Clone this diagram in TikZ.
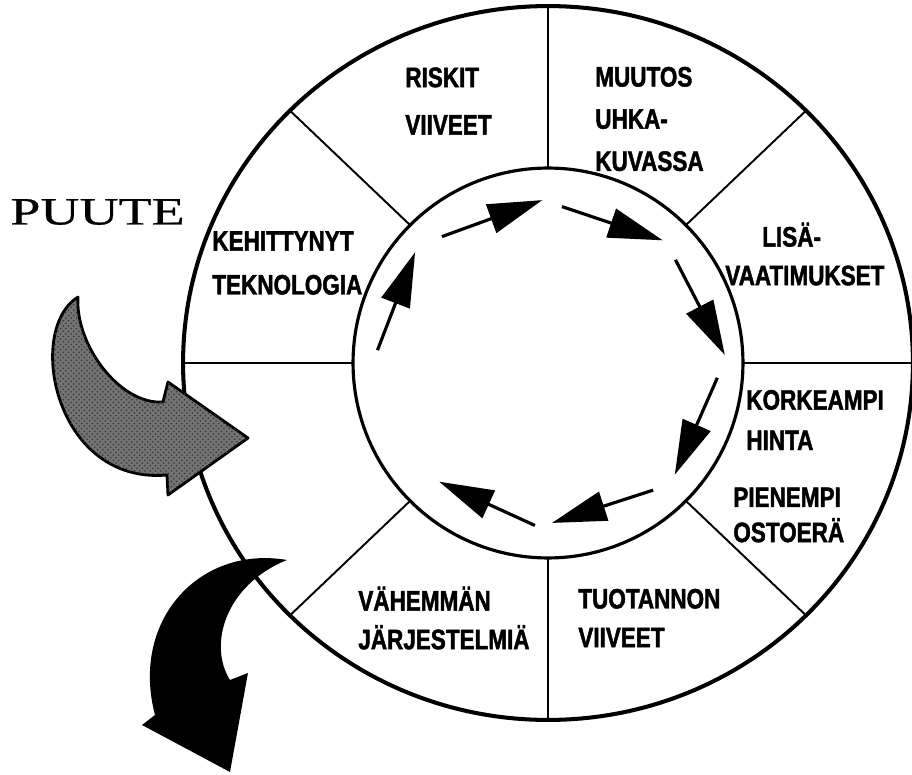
\documentclass[tikz,border=0pt]{standalone}
\usepackage{fontspec}
\usetikzlibrary{arrows.meta, patterns}
\newfontfamily\ringfont[FakeStretch=0.8, FakeBold=1.6, UprightFont={* Bold}]{Liberation Sans}
\newfontfamily\puutefont[FakeStretch=1.4, FakeBold=0.6]{Liberation Serif}

\begin{document}
\begin{tikzpicture}[
    x=0.02cm, y=0.02cm,
    sector/.style={anchor=west, align=left, inner sep=0pt, font=\ringfont\fontsize{16}{22}\selectfont},
    divider/.style={line width=1.1pt},
    flow/.style={-{Triangle[length=31pt, width=17pt]}, line width=1.8pt},
    bigarrow/.style={line width=1.6pt, line join=round}
]
\useasboundingbox (-548,-411) rectangle (364,363);
\coordinate (c) at (0,0);

% ring with eight sectors
\draw[line width=2.3pt] (c) ellipse [x radius=7.3cm, y radius=7.14cm];
\foreach \a in {0,45,...,315}
  \draw[divider] (\a:195) -- (\a:365 and 357);
\draw[line width=1.8pt, fill=white] (c) circle [radius=3.9cm];

\node[sector] (riskit) at (-143,262) {RISKIT\\[5pt]VIIVEET};
\node[sector] (muutos) at (47,244) {MUUTOS\\[2pt]UHKA-\\[2pt]KUVASSA};
\node[sector] (kehitys) at (-336,100) {KEHITTYNYT\\[3pt]TEKNOLOGIA};
\node[sector] (lisa) at (177,109) {\hspace*{21pt}LISÄ-\\VAATIMUKSET};
\node[sector] (hinta) at (198,-57) {KORKEAMPI\\[1pt]HINTA};
\node[sector] (ostoera) at (185,-152) {PIENEMPI\\[-2pt]OSTOERÄ};
\node[sector] (viiveet) at (30,-255) {TUOTANNON\\VIIVEET};
\node[sector] (jarjestelmat) at (-190,-255) {VÄHEMMÄN\\JÄRJESTELMIÄ};
\node[anchor=west, inner sep=0pt, font=\puutefont\fontsize{22}{22}\selectfont] (puute) at (-538,151) {PUUTE};

% the cycle inside
\foreach \n/\a/\ra/\b/\rb in {1/175.7/171/140.2/173, 2/130/165/92/163, 3/84.9/157/46.9/168,
    4/39/164/2.6/177, 5/-5/170/-41.4/169, 6/-50.4/165/-88.6/160, 7/-94.6/163/-132.5/161} {
  \coordinate (t\n) at (\a:\ra);
  \coordinate (h\n) at (\b:\rb);
  \draw[flow] (t\n) -- (h\n);
}

% curved arrows
\draw[bigarrow, fill=black!55, postaction={pattern=crosshatch dots, pattern color=black!80}]
  (-470,66) .. controls (-523,33) and (-493,-122) .. (-381,-112)
  -- (-380,-132) -- (-300,-75) -- (-380,-19) -- (-385,-39)
  .. controls (-428,-42) and (-473,18) .. (-470,66) -- cycle;
\fill (-261,-197) .. controls (-348,-182) and (-418,-257) .. (-393,-352)
  -- (-406,-362) -- (-318,-409) -- (-300,-310) -- (-318,-317)
  .. controls (-340,-282) and (-323,-222) .. (-261,-197) -- cycle;
\end{tikzpicture}
\end{document}
